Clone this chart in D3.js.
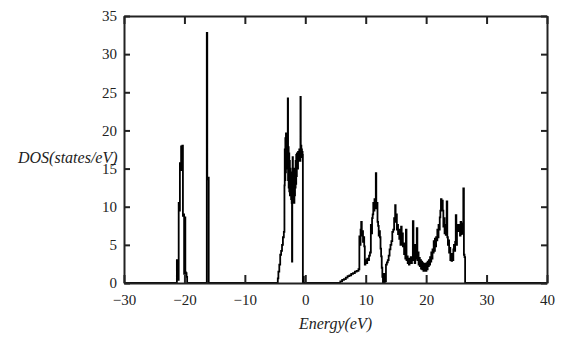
<!DOCTYPE html>
<html>
<head>
<meta charset="utf-8">
<script src="https://cdn.jsdelivr.net/npm/d3@7"></script>
<style>
  body { margin: 0; background: #fff; }
  .axis text { font-family: "Liberation Serif", "Times New Roman", "DejaVu Serif", serif; font-size: 15px; fill: #222; }
  .axis path, .axis line { stroke: #222; stroke-width: 2; }
  .label { font-family: "Liberation Serif", "Times New Roman", "DejaVu Serif", serif; font-style: italic; font-size: 16px; fill: #222; }
</style>
</head>
<body>
<div id="dosChart"></div>
<script>
// tick values
let xTicks = [-30, -20, -10, 0, 10, 20, 30, 40]
let yTicks = [0, 5, 10, 15, 20, 25, 30, 35]

// energy (eV) and density of states
let coreEnergy = [-30, -21.35, -21.25, -21.15, -21.05, -20.95, -20.85, -20.75, -20.65, -20.55, -20.45, -20.35,
    -20.25, -20.15, -20.05, -19.95, -19.85, -19.75, -19.65, -19.55,
    -16.4, -16.3, -16.22, -16.12, -16.05, -15.98]
let coreDos = [0, 0, 3.0, 3.0, 0.4, 10.5, 9.5, 15.7, 14.8, 17.9, 17.2, 18.0,
    8.8, 9.0, 1.2, 8.6, 1.4, 1.3, 0.8, 0,
    0, 32.8, 13.8, 13.6, 13.8, 0]

let valenceEnergy = [-4.7, -4.55, -4.45, -4.3, -4.15, -4.0, -3.85, -3.7, -3.55,
    -3.45, -3.4, -3.35, -3.3, -3.25, -3.2, -3.15, -3.1, -3.05, -3.0, -2.95, -2.9, -2.85, -2.8,
    -2.75, -2.7, -2.65, -2.6, -2.55, -2.5, -2.45, -2.4, -2.35, -2.3, -2.25, -2.2, -2.15, -2.1,
    -2.05, -2.0, -1.95, -1.9, -1.85, -1.8, -1.75, -1.7, -1.65, -1.6, -1.55, -1.5, -1.45, -1.4,
    -1.35, -1.3, -1.25, -1.2, -1.15, -1.1, -1.05, -1.0, -0.95, -0.9, -0.85, -0.8, -0.75, -0.7,
    -0.65, -0.6, -0.55, -0.5, -0.45, -0.4, -0.33, -0.25]
let valenceDos = [0, 0.6, 1.5, 2.4, 3.7, 4.2, 5.0, 6.0, 6.7,
    12.8, 17.5, 13.5, 19.0, 14.5, 19.6, 15.0, 19.0, 16.0, 19.5, 17.0, 24.2, 13.5, 17.8,
    12.5, 17.0, 12.0, 16.0, 11.5, 15.0, 11.8, 14.5, 11.0, 13.5, 10.5, 2.8, 13.0, 16.5,
    11.5, 15.0, 11.0, 13.0, 10.5, 14.0, 11.5, 15.0, 12.5, 16.0, 13.0, 16.8, 14.0, 17.0,
    15.5, 16.6, 15.0, 17.2, 16.0, 17.0, 16.5, 17.5, 16.5, 17.5, 16.0, 24.4, 17.2, 18.0,
    16.8, 17.5, 16.5, 17.2, 16.8, 0, 0.8, 0]

let conductionEnergy = [5.5, 5.8, 6.1, 6.4, 6.7, 7.0, 7.3, 7.6, 7.9, 8.2, 8.5, 8.8,
    8.95, 9.05, 9.15, 9.25, 9.35, 9.45, 9.55, 9.65, 9.75, 9.85, 9.95, 10.1, 10.25, 10.4, 10.55, 10.7,
    10.85, 10.95, 11.05, 11.15, 11.25, 11.35, 11.45, 11.55, 11.67, 11.75, 11.85, 11.95, 12.05, 12.15,
    12.25, 12.35, 12.45, 12.55, 12.65, 12.75, 12.85, 12.95, 13.05, 13.15, 13.25, 13.35, 13.5, 13.65,
    13.8, 13.95, 14.1, 14.25, 14.4, 14.55, 14.7, 14.87, 14.95, 15.05, 15.15, 15.25, 15.35, 15.45,
    15.55, 15.65, 15.75, 15.85, 15.95, 16.05, 16.15, 16.25, 16.35, 16.45, 16.55, 16.65, 16.75, 16.85,
    16.95, 17.05, 17.15, 17.25, 17.35, 17.45, 17.55, 17.65, 17.8, 17.9, 18.0, 18.1, 18.2, 18.3,
    18.45, 18.55, 18.65, 18.75, 18.85, 18.95, 19.05, 19.15, 19.25, 19.35, 19.45, 19.55, 19.65, 19.75,
    19.85, 19.95, 20.05, 20.15, 20.25, 20.35, 20.45, 20.55, 20.65, 20.75, 20.85, 20.95, 21.05, 21.15,
    21.25, 21.35, 21.45, 21.55, 21.65, 21.75, 21.85, 21.95, 22.05, 22.15, 22.25, 22.35, 22.45, 22.55,
    22.65, 22.75, 22.85, 22.95, 23.05, 23.15, 23.25, 23.4, 23.5, 23.6, 23.7, 23.8, 23.9, 24.0,
    24.1, 24.2, 24.3, 24.4, 24.5, 24.6, 24.7, 24.8, 24.9, 25.0, 25.1, 25.2, 25.3, 25.4,
    25.5, 25.6, 25.7, 25.8, 25.9, 26.0, 26.15, 26.25, 26.35, 26.45, 40]
let conductionDos = [0, 0.2, 0.4, 0.5, 0.7, 0.9, 1.0, 1.2, 1.3, 1.5, 1.6, 1.8,
    6.1, 5.0, 7.0, 8.0, 6.2, 6.8, 5.4, 6.0, 4.8, 2.4, 3.0, 2.6, 3.2, 3.0, 3.6, 4.0,
    7.6, 6.5, 8.5, 9.0, 10.5, 9.5, 11.0, 10.0, 14.4, 9.8, 10.5, 8.0, 7.5, 6.2,
    6.8, 6.0, 4.5, 3.5, 2.0, 0.8, 0, 1.2, 0, 1.0, 0.2, 2.4, 2.7, 3.0,
    3.6, 4.4, 5.0, 5.5, 6.7, 7.0, 8.5, 10.2, 8.0, 9.0, 7.0, 7.6, 6.4, 7.0,
    5.8, 6.4, 5.0, 7.4, 5.5, 6.5, 4.8, 5.2, 3.8, 4.6, 3.2, 7.0, 3.0, 3.5,
    2.6, 3.2, 2.4, 3.0, 2.8, 3.4, 2.6, 3.2, 8.1, 3.0, 4.5, 2.6, 5.0, 3.2,
    7.2, 3.0, 4.0, 2.4, 3.3, 2.2, 3.0, 1.9, 2.8, 1.8, 2.6, 1.6, 2.5, 1.7,
    2.4, 1.6, 2.6, 1.8, 2.8, 2.2, 3.0, 2.4, 3.4, 2.8, 4.0, 3.2, 4.4, 4.0,
    5.5, 4.2, 5.8, 4.8, 6.0, 5.6, 7.0, 6.0, 7.6, 7.0, 8.6, 9.5, 11.0, 9.6,
    10.8, 9.5, 7.4, 8.5, 6.5, 7.6, 6.3, 10.7, 6.0, 5.0, 5.6, 4.0, 4.6, 3.0,
    3.8, 2.9, 3.6, 3.0, 4.4, 5.0, 4.2, 5.4, 8.9, 5.0, 7.5, 6.8, 7.6, 6.9,
    7.4, 6.2, 8.0, 6.4, 7.8, 6.5, 12.4, 3.7, 3.4, 0, 0]

let energy = coreEnergy.concat(valenceEnergy, conductionEnergy)
let dos = coreDos.concat(valenceDos, conductionDos)

let margin = {top: 16, right: 24, bottom: 62, left: 124}
let width = 571 - margin.left - margin.right
let height = 345 - margin.top - margin.bottom

let svg = d3.select("#dosChart").append("svg")
    .attr("width", 571)
    .attr("height", 345)
    .append("g")
    .attr("transform", `translate(${margin.left}, ${margin.top})`)

let x = d3.scaleLinear().domain([-30, 40]).range([0, width])
let y = d3.scaleLinear().domain([0, 35]).range([height, 0])

// DOS curve, drawn as steps like the original
let line = d3.line()
    .curve(d3.curveStepAfter)
    .x(i => x(energy[i]))
    .y(i => y(dos[i]))

svg.append("path")
    .datum(d3.range(energy.length))
    .attr("d", line)
    .attr("fill", "none")
    .attr("stroke", "#000")
    .attr("stroke-width", 1.8)

// axes, ticks inside on all four sides
svg.append("g")
    .attr("class", "axis")
    .attr("transform", `translate(0, ${height})`)
    .call(d3.axisBottom(x).tickValues(xTicks).tickSizeInner(-8).tickSizeOuter(0).tickPadding(11))

svg.append("g")
    .attr("class", "axis")
    .call(d3.axisTop(x).tickValues(xTicks).tickSizeInner(-8).tickSizeOuter(0).tickFormat(""))

svg.append("g")
    .attr("class", "axis")
    .call(d3.axisLeft(y).tickValues(yTicks).tickSizeInner(-6).tickSizeOuter(0).tickPadding(7))

svg.append("g")
    .attr("class", "axis")
    .attr("transform", `translate(${width}, 0)`)
    .call(d3.axisRight(y).tickValues(yTicks).tickSizeInner(-6).tickSizeOuter(0).tickFormat(""))

// labels
svg.append("text")
    .attr("class", "label")
    .attr("x", width / 2)
    .attr("y", height + 46)
    .attr("text-anchor", "middle")
    .text("Energy(eV)")

svg.append("text")
    .attr("class", "label")
    .attr("x", 18 - margin.left)
    .attr("y", 147)
    .text("DOS(states/eV)")
</script>
</body>
</html>
